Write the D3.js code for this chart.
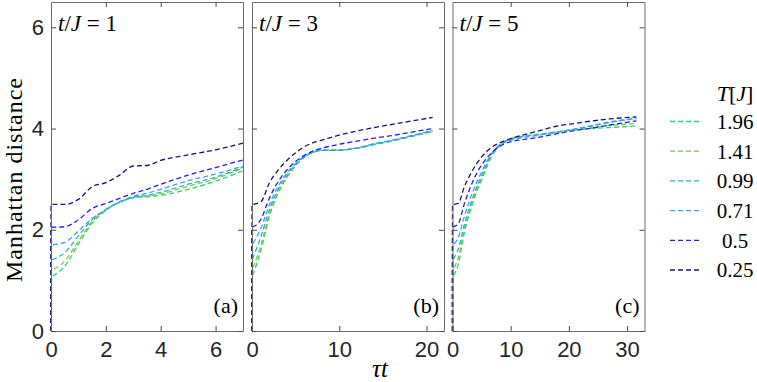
<!DOCTYPE html>
<html>
<head>
<meta charset="utf-8">
<script src="https://cdn.jsdelivr.net/npm/d3@7"></script>
<style>
	body { margin: 0; background: #fff; }
	svg { display: block; }
	.tex { font-family: "Liberation Serif", "Times New Roman", serif; fill: #000; }
</style>
</head>
<body>
<script>
// Temperatures (legend) and line colours
const temps = ['1.96', '1.41', '0.99', '0.71', '0.5', '0.25'];
const lineColors = ['#1ed97a', '#84c440', '#24b3c4', '#3d9eff', '#1f1ff5', '#14147a'];

// Panel titles and tags
const panelRatios = ['1', '3', '5'];
const panelTags = ['(a)', '(b)', '(c)'];

// Axis ticks
const yTicks = [0, 2, 4, 6];
const xTicksA = [0, 2, 4, 6];
const xTicksB = [0, 10, 20];
const xTicksC = [0, 10, 20, 30];

// Panel (a): t/J = 1
const timeA = [0, 0.5, 1, 1.5, 2, 2.5, 3, 3.5, 4, 5, 6, 7];
const distA = [
	[1.07, 1.28, 1.72, 2.13, 2.38, 2.54, 2.63, 2.65, 2.68, 2.80, 2.96, 3.17],
	[1.20, 1.38, 1.78, 2.16, 2.39, 2.55, 2.64, 2.67, 2.71, 2.86, 3.01, 3.22],
	[1.40, 1.55, 1.88, 2.20, 2.40, 2.55, 2.64, 2.68, 2.74, 2.90, 3.04, 3.24],
	[1.70, 1.75, 1.98, 2.22, 2.40, 2.55, 2.66, 2.72, 2.80, 2.97, 3.10, 3.26],
	[2.05, 2.06, 2.20, 2.42, 2.52, 2.62, 2.72, 2.80, 2.90, 3.08, 3.23, 3.38],
	[2.50, 2.50, 2.60, 2.85, 2.93, 3.08, 3.26, 3.27, 3.37, 3.48, 3.58, 3.71]
];

// Panel (b): t/J = 3
const timeB = [0, 1, 2, 3, 4, 5, 6, 7, 8, 10, 12, 14, 16, 18, 20.7];
const distB = [
	[1.07, 1.58, 2.27, 2.72, 3.03, 3.27, 3.43, 3.53, 3.58, 3.58, 3.61, 3.68, 3.75, 3.83, 3.94],
	[1.20, 1.68, 2.32, 2.75, 3.05, 3.28, 3.44, 3.54, 3.58, 3.58, 3.61, 3.69, 3.76, 3.84, 3.95],
	[1.40, 1.85, 2.40, 2.80, 3.08, 3.29, 3.44, 3.53, 3.57, 3.57, 3.61, 3.69, 3.76, 3.84, 3.95],
	[1.70, 2.02, 2.50, 2.86, 3.12, 3.31, 3.45, 3.53, 3.57, 3.57, 3.62, 3.70, 3.77, 3.85, 3.96],
	[2.05, 2.20, 2.63, 2.95, 3.18, 3.35, 3.47, 3.56, 3.61, 3.69, 3.75, 3.81, 3.86, 3.92, 4.00],
	[2.50, 2.55, 2.93, 3.18, 3.37, 3.52, 3.64, 3.72, 3.77, 3.87, 3.95, 4.02, 4.08, 4.14, 4.22]
];

// Panel (c): t/J = 5
const timeC = [0, 1, 2, 3, 4, 5, 6, 7, 8, 10, 12, 15, 18, 21, 24, 27, 31.6];
const distC = [
	[1.07, 1.32, 1.92, 2.35, 2.70, 2.98, 3.27, 3.50, 3.65, 3.79, 3.84, 3.88, 3.93, 3.97, 4.00, 4.02, 4.05],
	[1.20, 1.45, 1.98, 2.40, 2.74, 3.02, 3.30, 3.52, 3.66, 3.80, 3.85, 3.89, 3.94, 3.98, 4.02, 4.06, 4.10],
	[1.40, 1.62, 2.08, 2.47, 2.80, 3.07, 3.33, 3.54, 3.67, 3.79, 3.84, 3.88, 3.93, 3.99, 4.05, 4.12, 4.20],
	[1.70, 1.85, 2.25, 2.60, 2.90, 3.14, 3.37, 3.55, 3.66, 3.77, 3.82, 3.87, 3.93, 3.99, 4.06, 4.13, 4.20],
	[2.05, 2.12, 2.50, 2.82, 3.08, 3.28, 3.43, 3.55, 3.64, 3.74, 3.78, 3.83, 3.90, 3.96, 4.01, 4.07, 4.15],
	[2.50, 2.52, 2.84, 3.08, 3.28, 3.44, 3.56, 3.65, 3.71, 3.80, 3.87, 3.96, 4.05, 4.10, 4.15, 4.19, 4.23]
];

const W = 757, H = 382;
const plotTop = 2, plotBottom = 331;

const panels = [
	{ times: timeA, dists: distA, xMax: 7, xTicks: xTicksA, left: 51, right: 243 },
	{ times: timeB, dists: distB, xMax: 22, xTicks: xTicksB, left: 252, right: 444 },
	{ times: timeC, dists: distC, xMax: 33, xTicks: xTicksC, left: 452.5, right: 644.5 }
];

const svg = d3.select('body')
	.append('svg')
	.attr('width', W)
	.attr('height', H);

const yScale = d3.scaleLinear()
	.domain([0, 6.5])
	.range([plotBottom, plotTop]);

const intFormat = d3.format('d');

function styleAxis(g) {
	g.attr('font-family', '"Liberation Sans", Arial, sans-serif')
		.attr('font-size', 22);
	g.select('.domain').attr('stroke', '#6b6b6b');
	g.selectAll('.tick line').attr('stroke', '#4a4a4a');
	g.selectAll('.tick text').attr('fill', '#262626');
}

panels.forEach((p, pi) => {
	const xScale = d3.scaleLinear()
		.domain([0, p.xMax])
		.range([p.left, p.right]);

	const g = svg.append('g').attr('class', 'panel');

	// Curves (lowest temperature drawn last, on top)
	const line = d3.line()
		.x(d => xScale(d[0]))
		.y(d => yScale(d[1]))
		.curve(d3.curveMonotoneX);

	p.dists.forEach((vals, si) => {
		const pts = p.times.map((t, i) => [t, vals[i]]);
		// each run starts at zero, then jumps to its first value
		const path = `M${xScale(0)},${yScale(0)}L` + line(pts).slice(1);
		g.append('path')
			.attr('d', path)
			.attr('fill', 'none')
			.attr('stroke', lineColors[si])
			.attr('stroke-width', 1.3)
			.attr('stroke-dasharray', '5,3');
	});

	// Axes: ticks pointing inward on all four sides
	g.append('g')
		.attr('transform', `translate(0, ${plotBottom})`)
		.call(d3.axisBottom(xScale).tickValues(p.xTicks).tickSize(-5).tickSizeOuter(0)
			.tickPadding(10).tickFormat(intFormat))
		.call(styleAxis);

	g.append('g')
		.attr('transform', `translate(0, ${plotTop})`)
		.call(d3.axisTop(xScale).tickValues(p.xTicks.filter(v => v > 0)).tickSize(-5).tickSizeOuter(0).tickFormat(''))
		.call(styleAxis);

	g.append('g')
		.attr('transform', `translate(${p.left}, 0)`)
		.call(d3.axisLeft(yScale).tickValues(yTicks).tickSize(-5).tickSizeOuter(0).tickPadding(7)
			.tickFormat(pi === 0 ? intFormat : ''))
		.call(styleAxis);

	g.append('g')
		.attr('transform', `translate(${p.right}, 0)`)
		.call(d3.axisRight(yScale).tickValues(yTicks).tickSize(-5).tickSizeOuter(0).tickFormat(''))
		.call(styleAxis);

	// Panel title t/J = n
	const title = g.append('text')
		.attr('class', 'tex')
		.attr('x', p.left + 7)
		.attr('y', 31)
		.attr('font-size', 23);
	title.append('tspan').attr('font-style', 'italic').text('t');
	title.append('tspan').text('/');
	title.append('tspan').attr('font-style', 'italic').text('J');
	title.append('tspan').text(` = ${panelRatios[pi]}`);

	// Panel tag
	g.append('text')
		.attr('class', 'tex')
		.attr('x', p.right - 5)
		.attr('y', 313)
		.attr('font-size', 22)
		.style('text-anchor', 'end')
		.text(panelTags[pi]);
});

// Axis labels
svg.append('text')
	.attr('class', 'tex')
	.attr('transform', 'translate(22, 180) rotate(-90)')
	.attr('font-size', 24)
	.attr('textLength', 204)
	.attr('lengthAdjust', 'spacing')
	.style('text-anchor', 'middle')
	.text('Manhattan distance');

const xLabel = svg.append('text')
	.attr('class', 'tex')
	.attr('x', 380)
	.attr('y', 377)
	.attr('font-size', 25)
	.attr('font-style', 'italic')
	.style('text-anchor', 'middle');
xLabel.text('τt');

// Legend
const legend = svg.append('g').attr('class', 'legend');

const legendTitle = legend.append('text')
	.attr('class', 'tex')
	.attr('x', 735)
	.attr('y', 101)
	.attr('font-size', 22)
	.style('text-anchor', 'middle');
legendTitle.append('tspan').attr('font-style', 'italic').text('T');
legendTitle.append('tspan').text('[');
legendTitle.append('tspan').attr('font-style', 'italic').text('J');
legendTitle.append('tspan').text(']');

const entries = legend.selectAll('.legend-entry')
	.data(temps)
	.enter().append('g')
	.attr('class', 'legend-entry')
	.attr('transform', (d, i) => `translate(0, ${121.5 + i * 29.7})`);

entries.append('line')
	.attr('x1', 670)
	.attr('x2', 702)
	.attr('stroke', (d, i) => lineColors[i])
	.attr('stroke-width', 1.3)
	.attr('stroke-dasharray', '5,3');

entries.append('text')
	.attr('class', 'tex')
	.attr('x', 735)
	.attr('dy', '0.35em')
	.attr('font-size', 21)
	.style('text-anchor', 'middle')
	.text(d => d);
</script>
</body>
</html>
